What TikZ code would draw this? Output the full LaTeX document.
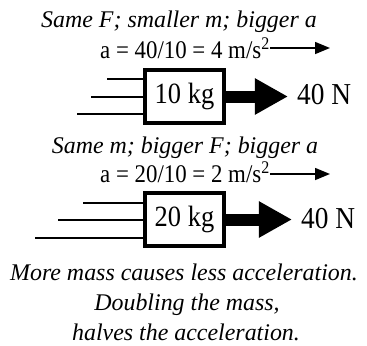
\documentclass[tikz,border=0pt]{standalone}
\usepackage{fontspec}
\setmainfont{Liberation Serif}
\newfontfamily\tallfont[FakeStretch=0.9]{Liberation Serif}
\usepackage{tikz}
\usetikzlibrary{arrows.meta,positioning}

\begin{document}
\begin{tikzpicture}[
    x=1bp, y=-1bp,
    note/.style={inner sep=0pt, anchor=base, font=\fontsize{24}{28}\selectfont\itshape},
    eqn/.style={inner sep=0pt, anchor=base west, font=\tallfont\fontsize{25.5}{28}\selectfont},
    mass/.style={draw, line width=4bp, minimum width=79bp, minimum height=53bp, inner sep=0pt, font=\tallfont\fontsize{29.5}{30}\selectfont},
    force/.style={inner sep=0pt, anchor=base west, font=\tallfont\fontsize{30.5}{32}\selectfont},
    accarrow/.style={-{Triangle[length=15bp,width=12bp]}, line width=1.5bp},
    pusharrow/.style={-{Triangle[length=33bp,width=34bp]}, line width=12bp, shorten >=9bp},
    trail/.style={line width=1.2bp}
]
\useasboundingbox (0,0) rectangle (367,346);
% first case: 10 kg
\node[note] (same1) at (179,27) {Same F; smaller m; bigger a};
\node[eqn] (acc1) at (100,58) {a = 40/10 = 4 m/s\textsuperscript{2}};
\coordinate (tip1) at (330,48);
\draw[accarrow] (acc1.east |- tip1) -- (tip1);
\node[mass] (box1) at (184.5,96.5) {10 kg};
\node[force] (f1) at (297,104) {40 N};
\draw[pusharrow] (box1.east) -- (f1.west |- box1.east);
\coordinate (t1a) at (107,79);
\coordinate (t1b) at (91,97);
\coordinate (t1c) at (77,114);
\foreach \t in {t1a,t1b,t1c}
  \draw[trail] (\t) -- (\t -| box1.west);
% second case: 20 kg
\node[note] (same2) at (185,153) {Same m; bigger F; bigger a};
\node[eqn] (acc2) at (100,182) {a = 20/10 = 2 m/s\textsuperscript{2}};
\coordinate (tip2) at (330,174);
\draw[accarrow] (acc2.east |- tip2) -- (tip2);
\node[mass] (box2) at (184.5,219.5) {20 kg};
\node[force] (f2) at (301,228) {40 N};
\draw[pusharrow] (box2.east) -- (f2.west |- box2.east);
\coordinate (t2a) at (83,203);
\coordinate (t2b) at (58,220);
\coordinate (t2c) at (35,238);
\foreach \t in {t2a,t2b,t2c}
  \draw[trail] (\t) -- (\t -| box2.west);
% conclusion
\node[note] (sum1) at (184,280) {More mass causes less acceleration.};
\node[note] (sum2) at (187,310) {Doubling the mass,};
\node[note] (sum3) at (186,340) {halves the acceleration.};
\end{tikzpicture}
\end{document}
